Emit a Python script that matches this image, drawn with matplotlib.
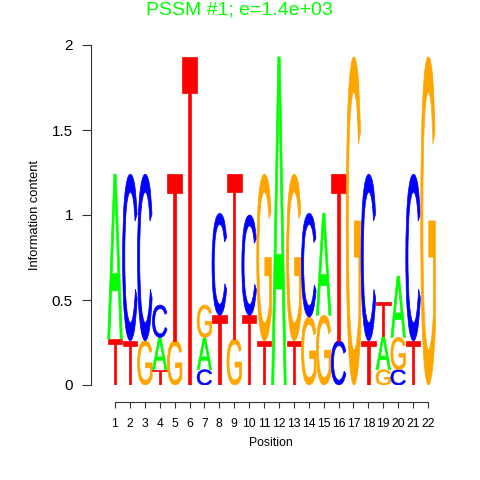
import matplotlib
matplotlib.use("Agg")
import matplotlib.pyplot as plt
from matplotlib.textpath import TextPath
from matplotlib.patches import PathPatch
from matplotlib.font_manager import FontProperties
from matplotlib.transforms import Affine2D

plt.rcParams["font.family"] = ["Liberation Sans", "DejaVu Sans"]

positions = list(range(1, 23))
bases = ["A", "C", "G", "T"]
# information heights per base at each position (bits)
height_A = [0.97, 0, 0, 0.19, 0, 0, 0.19, 0, 0, 0, 0, 1.93, 0, 0, 0.60, 0, 0, 0, 0.20, 0.36, 0, 0]
height_C = [0, 0.98, 0.98, 0.19, 0, 0, 0.09, 0.60, 0, 0.59, 0, 0, 0, 0.61, 0, 0.26, 0, 0.98, 0, 0.09, 0.98, 0]
height_G = [0, 0, 0.26, 0, 0.26, 0, 0.19, 0, 0.27, 0, 0.98, 0, 0.98, 0.40, 0.41, 0, 1.93, 0, 0.09, 0.19, 0, 1.93]
height_T = [0.27, 0.26, 0, 0.09, 0.98, 1.93, 0, 0.41, 0.97, 0.41, 0.26, 0, 0.26, 0, 0, 0.98, 0, 0.26, 0.20, 0, 0.26, 0]
y_ticks = [0, 0.5, 1, 1.5, 2]
y_tick_labels = ["0", "0.5", "1", "1.5", "2"]
title = "PSSM #1; e=1.4e+03"

colors = {"A": "#00FF00", "C": "#0000FF", "G": "#FFA500", "T": "#FF0000"}
heights = {"A": height_A, "C": height_C, "G": height_G, "T": height_T}

fig = plt.figure(figsize=(4.8, 4.8), dpi=100)
W, H = 480.0, 480.0
left_px, right_px, top_px, bot_px = 91, 451, 45, 385
ax = fig.add_axes([left_px / W, 1 - bot_px / H, (right_px - left_px) / W, (bot_px - top_px) / H])

px_per_unit = (428 - 115) / 21.0
x0 = 1 - (115 - left_px) / px_per_unit
x1 = 22 + (right_px - 428) / px_per_unit
ax.set_xlim(x0, x1)
ax.set_ylim(0, 2)

fp = FontProperties(family="Liberation Sans", weight="normal")
glyphs = {}
for b in bases:
    glyphs[b] = TextPath((0, 0), b, size=1, prop=fp)

letter_w = 0.98
for i, pos in enumerate(positions):
    items = [(heights[b][i], k, b) for k, b in enumerate(bases) if heights[b][i] > 0]
    items.sort(key=lambda t: (t[0], t[1]))
    ybase = 0.0
    for h, _, b in items:
        tp = glyphs[b]
        ext = tp.get_extents()
        sx = letter_w / ext.width
        sy = h / ext.height
        tr = Affine2D().translate(-ext.x0, -ext.y0).scale(sx, sy).translate(pos - letter_w / 2, ybase)
        path = tr.transform_path(tp)
        ax.add_patch(PathPatch(path, facecolor=colors[b], edgecolor=colors[b], lw=0.5))
        ybase += h

for s in ["top", "right"]:
    ax.spines[s].set_visible(False)
ax.spines["left"].set_bounds(0, 2)
ax.spines["left"].set_color("#333333")
ax.spines["bottom"].set_position(("outward", 12.2))
ax.spines["bottom"].set_bounds(1, 22)
ax.spines["bottom"].set_color("#333333")

ax.set_yticks(y_ticks)
ax.set_yticklabels(y_tick_labels, fontsize=11)
ax.set_xticks(positions)
ax.set_xticklabels([str(p) for p in positions], fontsize=8.8)
ax.tick_params(axis="y", length=6.5, color="#333333", pad=6.5)
ax.tick_params(axis="x", length=4.3, color="#333333", pad=7)
ax.set_ylabel("Information content", fontsize=9.3, labelpad=8)
ax.set_xlabel("Position", fontsize=8.8, labelpad=5)

fig.text(239 / W, 1 - 10 / H, title, color="#00FF00", fontsize=14, ha="center", va="center")

fig.savefig("out.png", dpi=100)
